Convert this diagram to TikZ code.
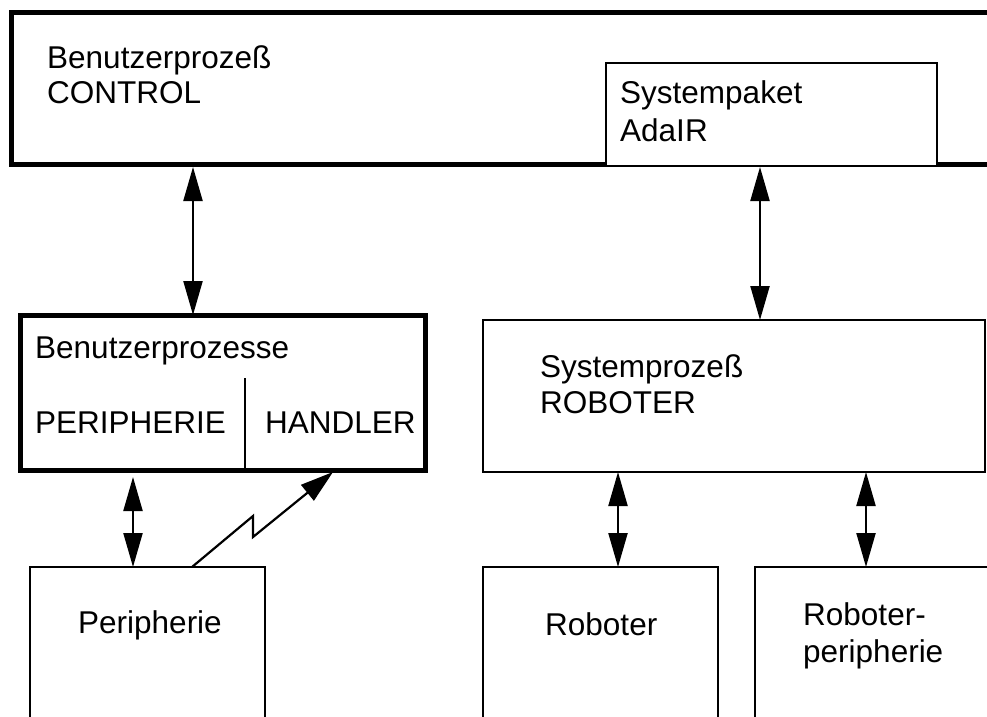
\documentclass[tikz,border=0pt]{standalone}
\usepackage{fontspec}
\setmainfont{Liberation Sans}
\usetikzlibrary{arrows.meta}
\begin{document}
\begin{tikzpicture}[x=1pt,y=-1pt,
  thickbox/.style={draw,line width=5pt,fill=white,inner sep=0pt,outer sep=0pt,anchor=north west},
  thinbox/.style={draw,line width=2.2pt,fill=white,inner sep=0pt,outer sep=0pt,anchor=north west},
  lbl/.style={anchor=base west,inner sep=0pt,font=\fontsize{31.5}{37}\selectfont},
  dbl/.style={line width=2.2pt,{Triangle[length=34pt,width=19pt]}-{Triangle[length=34pt,width=19pt]}},
  sgl/.style={line width=2.2pt,-{Triangle[length=33pt,width=20pt]}}]
\useasboundingbox (0,0) rectangle (987,716);
\clip (0,0) rectangle (987,716);
% boxes
\node[thickbox,minimum width=1000pt,minimum height=152pt] (ctrl) at (11,12) {};
\node[thinbox,minimum width=331pt,minimum height=103pt] (sysp) at (606,63) {};
\node[thickbox,minimum width=405pt,minimum height=155pt] (bp) at (20,315) {};
\node[thinbox,minimum width=502pt,minimum height=152pt] (srob) at (483,320) {};
\node[thinbox,minimum width=235pt,minimum height=180pt] (peri) at (30,567) {};
\node[thinbox,minimum width=235pt,minimum height=180pt] (rob) at (483,567) {};
\node[thinbox,minimum width=260pt,minimum height=180pt] (rperi) at (755,567) {};
% divider
\coordinate (dv) at (245,378);
\draw[line width=2.2pt] (dv) -- (dv |- bp.south);
% labels
\node[lbl] (t1a) at (47,68) {Benutzerprozeß};
\node[lbl] (t1b) at (47,103) {CONTROL};
\node[lbl] (t2a) at (620,103) {Systempaket};
\node[lbl] (t2b) at (620,141) {AdaIR};
\node[lbl] (t3a) at (35,358) {Benutzerprozesse};
\node[lbl] (t3b) at (35,433) {PERIPHERIE};
\node[lbl] (t3c) at (265,433) {HANDLER};
\node[lbl] (t4a) at (540,377) {Systemprozeß};
\node[lbl] (t4b) at (540,413) {ROBOTER};
\node[lbl] (t5) at (78,633) {Peripherie};
\node[lbl] (t6) at (545,635) {Roboter};
\node[lbl] (t7a) at (803,625) {Roboter-};
\node[lbl] (t7b) at (803,662) {peripherie};
% connectors
\coordinate (x1) at (193,0);
\coordinate (x2) at (760,0);
\coordinate (x3) at (133,0);
\coordinate (x4) at (618,0);
\coordinate (x5) at (866,0);
\draw[dbl,shorten <=3pt] (ctrl.south -| x1) -- (bp.north -| x1);
\draw[dbl,shorten <=1pt] (sysp.south -| x2) -- (srob.north -| x2);
\draw[dbl,shorten <=7pt] (bp.south -| x3) -- (peri.north -| x3);
\draw[dbl] (srob.south -| x4) -- (rob.north -| x4);
\draw[dbl] (srob.south -| x5) -- (rperi.north -| x5);
\coordinate (z0) at (192,567);
\coordinate (z3) at (333,472);
\draw[sgl] (z0) -- (253,516) -- (253,537) -- (z3);
\end{tikzpicture}
\end{document}
